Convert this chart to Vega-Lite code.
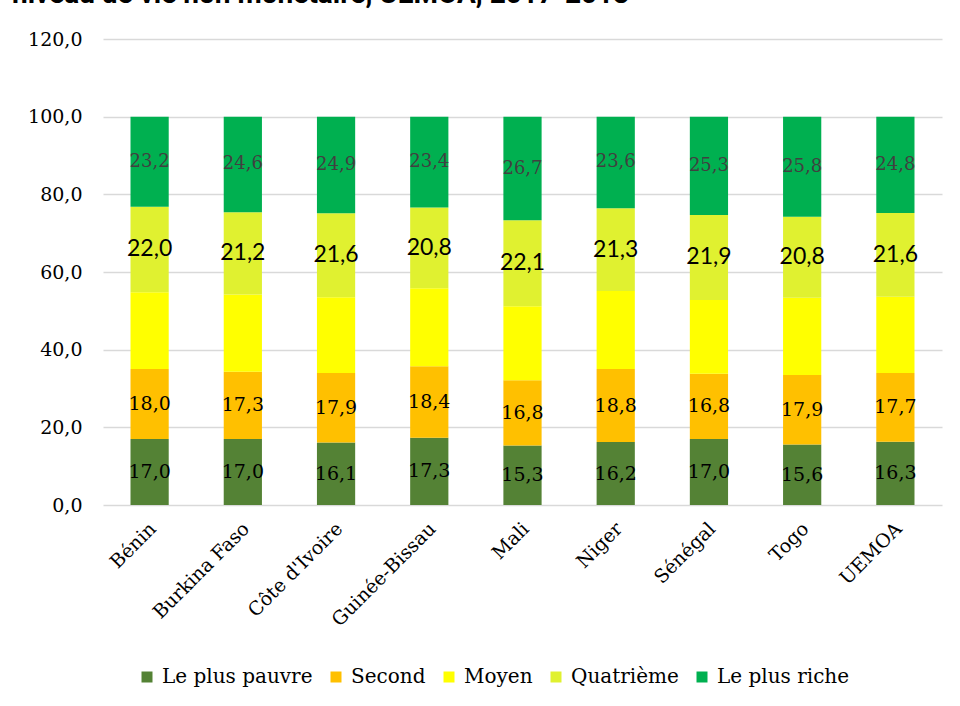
{
  "$schema": "https://vega.github.io/schema/vega-lite/v6.json",
  "autosize": "none",
  "width": 839,
  "height": 466,
  "padding": {"left": 103, "top": 39, "right": 18, "bottom": 201},
  "background": "white",
  "title": {
    "text": "niveau de vie non monétaire, UEMOA, 2017-2018",
    "anchor": "start",
    "frame": "group",
    "font": "Roboto",
    "fontSize": 28,
    "fontWeight": "bold",
    "color": "black",
    "baseline": "alphabetic",
    "dx": -91,
    "dy": 15,
    "offset": 14
  },
  "data": {
    "values": [
      {"pays": "Bénin", "quintile": "Le plus pauvre", "rang": 1, "valeur": 17.0},
      {"pays": "Bénin", "quintile": "Second", "rang": 2, "valeur": 18.0},
      {"pays": "Bénin", "quintile": "Moyen", "rang": 3, "valeur": 19.8},
      {"pays": "Bénin", "quintile": "Quatrième", "rang": 4, "valeur": 22.0},
      {"pays": "Bénin", "quintile": "Le plus riche", "rang": 5, "valeur": 23.2},
      {"pays": "Burkina Faso", "quintile": "Le plus pauvre", "rang": 1, "valeur": 17.0},
      {"pays": "Burkina Faso", "quintile": "Second", "rang": 2, "valeur": 17.3},
      {"pays": "Burkina Faso", "quintile": "Moyen", "rang": 3, "valeur": 19.9},
      {"pays": "Burkina Faso", "quintile": "Quatrième", "rang": 4, "valeur": 21.2},
      {"pays": "Burkina Faso", "quintile": "Le plus riche", "rang": 5, "valeur": 24.6},
      {"pays": "Côte d'Ivoire", "quintile": "Le plus pauvre", "rang": 1, "valeur": 16.1},
      {"pays": "Côte d'Ivoire", "quintile": "Second", "rang": 2, "valeur": 17.9},
      {"pays": "Côte d'Ivoire", "quintile": "Moyen", "rang": 3, "valeur": 19.5},
      {"pays": "Côte d'Ivoire", "quintile": "Quatrième", "rang": 4, "valeur": 21.6},
      {"pays": "Côte d'Ivoire", "quintile": "Le plus riche", "rang": 5, "valeur": 24.9},
      {"pays": "Guinée-Bissau", "quintile": "Le plus pauvre", "rang": 1, "valeur": 17.3},
      {"pays": "Guinée-Bissau", "quintile": "Second", "rang": 2, "valeur": 18.4},
      {"pays": "Guinée-Bissau", "quintile": "Moyen", "rang": 3, "valeur": 20.1},
      {"pays": "Guinée-Bissau", "quintile": "Quatrième", "rang": 4, "valeur": 20.8},
      {"pays": "Guinée-Bissau", "quintile": "Le plus riche", "rang": 5, "valeur": 23.4},
      {"pays": "Mali", "quintile": "Le plus pauvre", "rang": 1, "valeur": 15.3},
      {"pays": "Mali", "quintile": "Second", "rang": 2, "valeur": 16.8},
      {"pays": "Mali", "quintile": "Moyen", "rang": 3, "valeur": 19.1},
      {"pays": "Mali", "quintile": "Quatrième", "rang": 4, "valeur": 22.1},
      {"pays": "Mali", "quintile": "Le plus riche", "rang": 5, "valeur": 26.7},
      {"pays": "Niger", "quintile": "Le plus pauvre", "rang": 1, "valeur": 16.2},
      {"pays": "Niger", "quintile": "Second", "rang": 2, "valeur": 18.8},
      {"pays": "Niger", "quintile": "Moyen", "rang": 3, "valeur": 20.1},
      {"pays": "Niger", "quintile": "Quatrième", "rang": 4, "valeur": 21.3},
      {"pays": "Niger", "quintile": "Le plus riche", "rang": 5, "valeur": 23.6},
      {"pays": "Sénégal", "quintile": "Le plus pauvre", "rang": 1, "valeur": 17.0},
      {"pays": "Sénégal", "quintile": "Second", "rang": 2, "valeur": 16.8},
      {"pays": "Sénégal", "quintile": "Moyen", "rang": 3, "valeur": 19.0},
      {"pays": "Sénégal", "quintile": "Quatrième", "rang": 4, "valeur": 21.9},
      {"pays": "Sénégal", "quintile": "Le plus riche", "rang": 5, "valeur": 25.3},
      {"pays": "Togo", "quintile": "Le plus pauvre", "rang": 1, "valeur": 15.6},
      {"pays": "Togo", "quintile": "Second", "rang": 2, "valeur": 17.9},
      {"pays": "Togo", "quintile": "Moyen", "rang": 3, "valeur": 19.9},
      {"pays": "Togo", "quintile": "Quatrième", "rang": 4, "valeur": 20.8},
      {"pays": "Togo", "quintile": "Le plus riche", "rang": 5, "valeur": 25.8},
      {"pays": "UEMOA", "quintile": "Le plus pauvre", "rang": 1, "valeur": 16.3},
      {"pays": "UEMOA", "quintile": "Second", "rang": 2, "valeur": 17.7},
      {"pays": "UEMOA", "quintile": "Moyen", "rang": 3, "valeur": 19.6},
      {"pays": "UEMOA", "quintile": "Quatrième", "rang": 4, "valeur": 21.6},
      {"pays": "UEMOA", "quintile": "Le plus riche", "rang": 5, "valeur": 24.8}
    ]
  },
  "transform": [
    {"stack": "valeur", "groupby": ["pays"], "sort": [{"field": "rang", "order": "ascending"}], "as": ["y0", "y1"]},
    {"calculate": "(datum.y0 + datum.y1) / 2", "as": "milieu"}
  ],
  "encoding": {
    "x": {
      "field": "pays",
      "type": "nominal",
      "sort": null,
      "scale": {"paddingInner": 0.59, "paddingOuter": 0.295},
      "axis": {
        "title": null,
        "labelAngle": -45,
        "labelAlign": "right",
        "labelBaseline": "top",
        "labelPadding": 14,
        "labelOffset": -3,
        "ticks": false,
        "domain": false,
        "grid": false
      }
    }
  },
  "layer": [
    {
      "mark": {"type": "bar"},
      "encoding": {
        "y": {
          "field": "y0",
          "type": "quantitative",
          "scale": {"domain": [0, 120], "nice": false},
          "axis": {
            "title": null,
            "values": [0, 20, 40, 60, 80, 100, 120],
            "format": ".1f",
            "labelPadding": 21,
            "ticks": false,
            "domain": false,
            "grid": true
          }
        },
        "y2": {"field": "y1"},
        "color": {
          "field": "quintile",
          "type": "nominal",
          "scale": {
            "domain": ["Le plus pauvre", "Second", "Moyen", "Quatrième", "Le plus riche"],
            "range": ["#548235", "#FFC000", "#FFFF00", "#E0F130", "#00B050"]
          },
          "legend": {
            "title": null,
            "orient": "bottom",
            "direction": "horizontal",
            "padding": 34,
            "offset": 3
          }
        }
      }
    },
    {
      "transform": [{"filter": "datum.rang <= 2"}],
      "mark": {"type": "text", "font": "DejaVu Serif", "fontSize": 19, "color": "black", "baseline": "middle"},
      "encoding": {
        "y": {"field": "milieu", "type": "quantitative"},
        "text": {"field": "valeur", "type": "quantitative", "format": ".1f"}
      }
    },
    {
      "transform": [{"filter": "datum.rang == 4"}],
      "mark": {"type": "text", "font": "Lato", "fontSize": 23, "color": "black", "baseline": "middle"},
      "encoding": {
        "y": {"field": "milieu", "type": "quantitative"},
        "text": {"field": "valeur", "type": "quantitative", "format": ".1f"}
      }
    },
    {
      "transform": [{"filter": "datum.rang == 5"}],
      "mark": {"type": "text", "font": "DejaVu Serif", "fontSize": 18, "color": "#404040", "baseline": "middle"},
      "encoding": {
        "y": {"field": "milieu", "type": "quantitative"},
        "text": {"field": "valeur", "type": "quantitative", "format": ".1f"}
      }
    }
  ],
  "config": {
    "locale": {"number": {"decimal": ",", "thousands": " ", "grouping": [3], "currency": ["", " €"]}},
    "view": {"stroke": null},
    "axis": {
      "labelFont": "DejaVu Serif",
      "labelFontSize": 19,
      "labelColor": "black",
      "gridColor": "#D9D9D9",
      "gridWidth": 1.5
    },
    "legend": {
      "labelFont": "DejaVu Serif",
      "labelFontSize": 20,
      "labelColor": "black",
      "symbolType": "square",
      "symbolSize": 121,
      "symbolStrokeWidth": 0,
      "labelOffset": 5,
      "columnPadding": 13
    }
  }
}
